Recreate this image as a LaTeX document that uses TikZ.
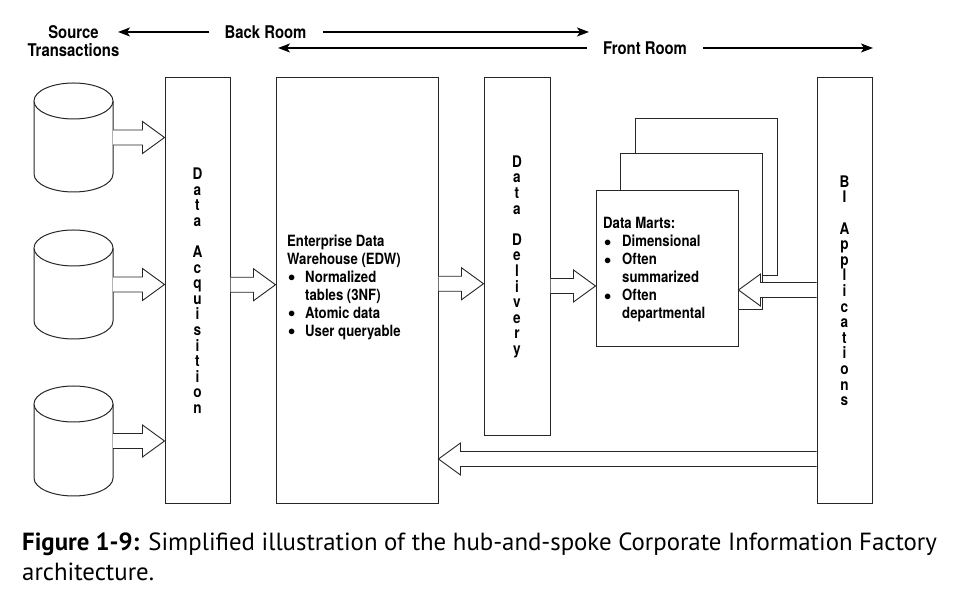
\documentclass[tikz,border=0pt]{standalone}
\usepackage{fontspec}
\setmainfont{TeX Gyre Heros}
\newfontfamily\hcond[FakeStretch=0.85]{TeX Gyre Heros}
\newfontfamily\capfont{PT Sans}
\usetikzlibrary{arrows.meta,calc}

\newcommand\blockarr[2]{%
  \draw[blk] let \p1=#1, \p2=#2, \n1={(\x2-\x1)/abs(\x2-\x1)} in
  (\x1,\y1+7.5pt) -- (\x2-\n1*22pt,\y1+7.5pt) -- (\x2-\n1*22pt,\y1+16pt) -- (\x2,\y1)
  -- (\x2-\n1*22pt,\y1-16pt) -- (\x2-\n1*22pt,\y1-7.5pt) -- (\x1,\y1-7.5pt);}

\newcommand\cylshape[3]{%
  \draw[box] (34,#2) -- (34,#3) arc[start angle=180,end angle=360,x radius=39.5,y radius=18]
     -- (113,#2) arc[start angle=0,end angle=180,x radius=39.5,y radius=18] -- cycle;
  \draw[box] (34,#2) arc[start angle=180,end angle=360,x radius=39.5,y radius=18];
  \coordinate (#1) at ($(113,#2)!0.5!(113,#3)$);}

\newcommand\bul[1]{\hspace*{1pt}\makebox[#1][l]{\raisebox{0.3pt}{$\bullet$}}}

\begin{document}
\begin{tikzpicture}[x=1pt,y=1pt,
  box/.style={draw=black!85,line width=1pt,fill=white,inner sep=0pt},
  vtext/.style={font=\hcond\bfseries\fontsize{16}{15.6}\selectfont,align=center},
  hdr/.style={font=\hcond\bfseries\fontsize{17.5}{18}\selectfont,inner sep=0pt,align=center},
  harr/.style={line width=1.3pt,-{Stealth[length=12pt,width=9pt,inset=3pt]}},
  blk/.style={draw=black!85,line width=0.9pt,fill=white,line join=miter},
  body/.style={font=\hcond\bfseries\fontsize{15.5}{18}\selectfont,align=left,inner sep=0pt,anchor=north west},
  captext/.style={font=\capfont\fontsize{24.8}{30}\selectfont,inner sep=0pt,anchor=base west}
]
\useasboundingbox (0,0) rectangle (955,599);

% header
\node[hdr] (src) at (73.5,558) {Source\\Transactions};
\node[hdr] (back) at (265.5,567) {Back Room};
\node[hdr] (front) at (645,551) {Front Room};
\coordinate (srcend) at (118,567);
\coordinate (backend) at (589,567);
\coordinate (frontl) at (278,551);
\coordinate (frontr) at (873,551);
\draw[harr] ([xshift=-15pt]back.west) -- (srcend);
\draw[harr] ([xshift=16pt]back.east) -- (backend);
\draw[harr] ([xshift=-16pt]front.west) -- (frontl);
\draw[harr] ([xshift=16pt]front.east) -- (frontr);

% cylinders
\cylshape{cy1}{498}{425}
\cylshape{cy2}{351}{278}
\cylshape{cy3}{195}{121}

% main boxes
\node[box,vtext,minimum width=65pt,minimum height=426.5pt] (da) at (197.5,308.25)
  {D\\a\\t\\a\\[15.6pt]A\\c\\q\\u\\i\\s\\i\\t\\i\\o\\n};
\node[box,minimum width=162pt,minimum height=426.5pt] (edw) at (357,308.25) {};
\node[box,vtext,minimum width=66pt,minimum height=358.5pt] (dd) at (517,342.25)
  {D\\a\\t\\a\\[15.6pt]D\\e\\l\\i\\v\\e\\r\\y};
\node[box,vtext,minimum width=55pt,minimum height=426.5pt] (bi) at (844.5,308.25)
  {B\\I\\[15.6pt]A\\p\\p\\l\\i\\c\\a\\t\\i\\o\\n\\s};

\node[body] (edwtext) at (287,364.5)
  {Enterprise Data\\Warehouse (EDW)\\
   \bul{17pt}Normalized\\
   \hspace*{18pt}tables (3NF)\\
   \bul{17pt}Atomic data\\
   \bul{17pt}User queryable};

% data marts stack
\node[box,minimum width=142pt,minimum height=157pt] (dmb) at (706,401.5) {};
\node[box,minimum width=142pt,minimum height=156pt] (dmm) at (691,367) {};
\node[box,minimum width=142pt,minimum height=156pt] (dmf) at (667,330) {};
\node[body] (dmtext) at (603,382)
  {Data Marts:\\
   \bul{18pt}Dimensional\\
   \bul{18pt}Often\\
   \hspace*{19pt}summarized\\
   \bul{18pt}Often\\
   \hspace*{19pt}departmental};

% block arrows
\blockarr{(cy1)}{(cy1 -| da.west)}
\blockarr{(cy2)}{(cy2 -| da.west)}
\blockarr{(cy3)}{(cy3 -| da.west)}
\coordinate (a4s) at ([yshift=6pt]da.east);
\blockarr{(a4s)}{(a4s -| edw.west)}
\coordinate (a5s) at ([yshift=7pt]edw.east);
\blockarr{(a5s)}{(a5s -| dd.west)}
\path (dd.east) ++(0,-29.25) coordinate (a6s);
\blockarr{(a6s)}{(a6s -| dmf.west)}
\coordinate (a7s) at ([yshift=0.75pt]bi.west);
\blockarr{(a7s)}{(a7s -| dmf.east)}
\path (bi.west) ++(0,-168.25) coordinate (a8s);
\blockarr{(a8s)}{(a8s -| edw.east)}

% caption
\node[captext] (cap1) at (22,48) {\textbf{Figure 1-9:}\hspace{9pt}Simplified illustration of the hub-and-spoke Corporate Information Factory};
\node[captext] (cap2) at (22,18) {architecture.};
\end{tikzpicture}
\end{document}
